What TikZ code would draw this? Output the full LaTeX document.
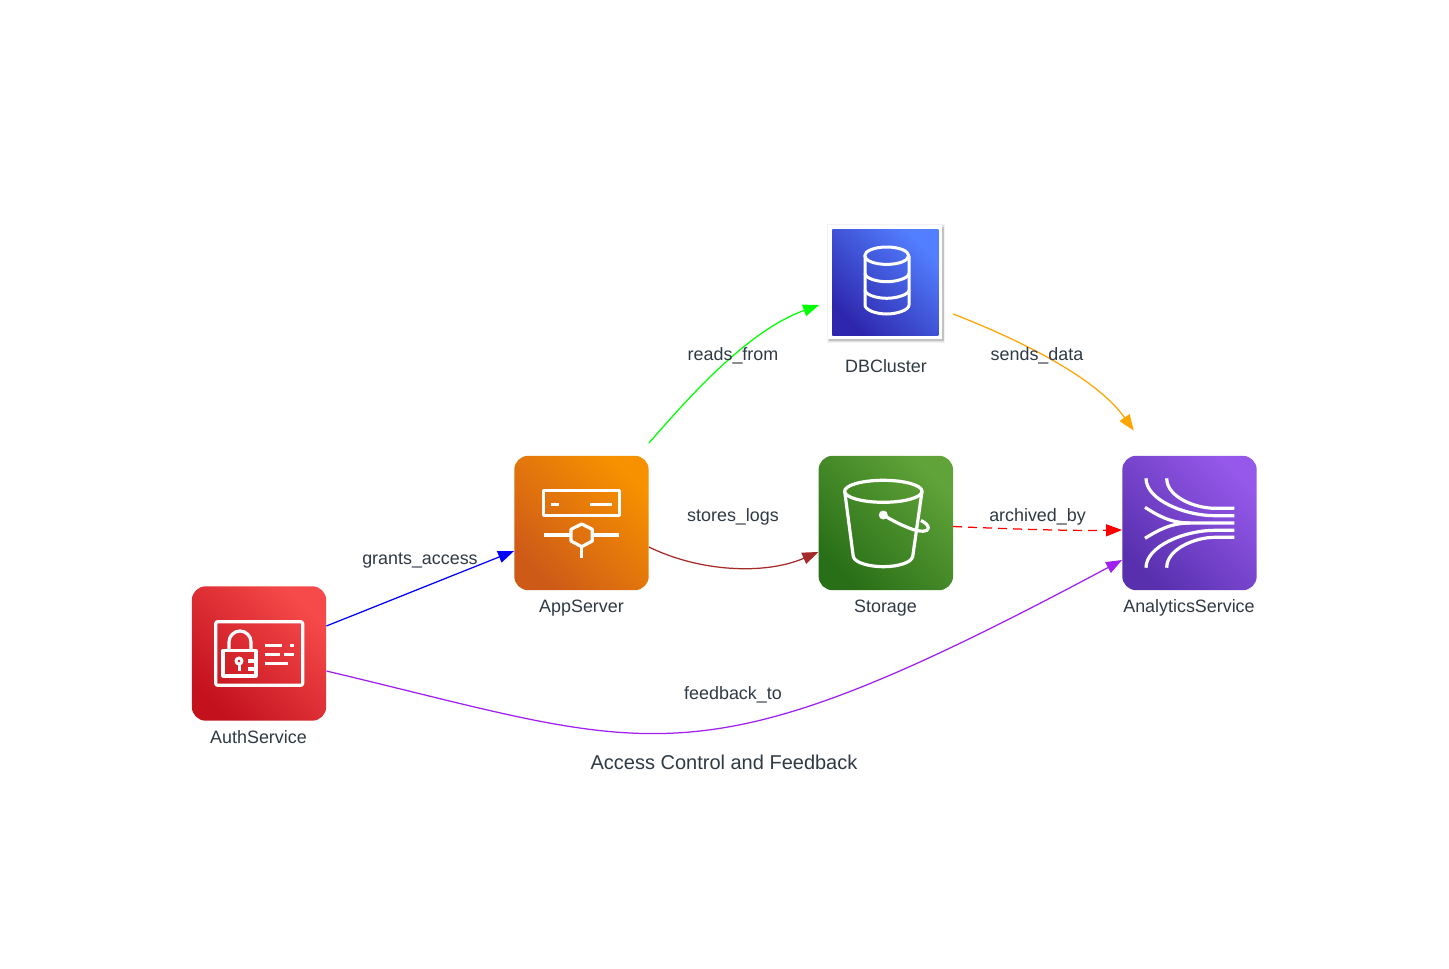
\documentclass[tikz,border=0pt]{standalone}
\usepackage{fontspec}
\setmainfont{Liberation Sans}
\usetikzlibrary{arrows.meta}
\definecolor{inkc}{HTML}{2F3A44}
\definecolor{redA}{HTML}{C3121E}\definecolor{redB}{HTML}{F64A4A}
\definecolor{orgA}{HTML}{CE5A18}\definecolor{orgB}{HTML}{F79100}
\definecolor{grnA}{HTML}{296F17}\definecolor{grnB}{HTML}{60A339}
\definecolor{bluA}{HTML}{2E27AD}\definecolor{bluB}{HTML}{527FFF}
\definecolor{purA}{HTML}{5830AE}\definecolor{purB}{HTML}{9558EA}
\definecolor{edgeorange}{HTML}{FFA500}
\definecolor{edgebrown}{HTML}{A52A2A}
\definecolor{edgepurple}{HTML}{A020F0}
\tikzset{
  x=1pt,y=-1pt,
  iconbox/.style={minimum size=134.4pt,inner sep=0pt,rounded corners=14pt},
  lbl/.style={anchor=base,font=\fontsize{17.9}{20}\selectfont,text=inkc,inner sep=0pt},
  titlelbl/.style={anchor=base,font=\fontsize{20}{22}\selectfont,text=inkc,inner sep=0pt},
  conn/.style={line width=1.25pt,-{Triangle[length=16pt,width=12pt]}},
  glyph/.style={draw=white,line width=3.2pt,line join=round},
  glyphthin/.style={draw=white,line width=3pt,line join=round},
}
\begin{document}
\begin{tikzpicture}
\useasboundingbox (0,0) rectangle (1449,969);
\fill[white] (0,0) rectangle (1449,969);
% DB shadow
\fill[black!5] (826.5,223.5) rectangle (945,343);
\fill[black!11] (827.5,224.5) rectangle (944,342);
\fill[black!24] (829,227) rectangle (943.7,341);
% nodes
\node[iconbox,bottom color=redA,top color=redB,shading angle=-45] (auth) at (259,653.5) {};
\node[iconbox,bottom color=orgA,top color=orgB,shading angle=-45] (app) at (581.5,523) {};
\node[iconbox,bottom color=grnA,top color=grnB,shading angle=-45] (store) at (885.8,523) {};
\node[iconbox,bottom color=purA,top color=purB,shading angle=-45] (ana) at (1189.5,523) {};
\node[fill=white,minimum size=114pt,inner sep=0pt] (db) at (885.3,282) {};
\node[minimum size=106pt,inner sep=0pt,bottom color=bluA,top color=bluB,shading angle=-45] (dbinner) at (885.3,282.3) {};
% auth glyph
\draw[glyph,rounded corners=2pt] (215.7,621.7) rectangle (302.7,685.3);
\draw[glyph] (223,650.7) rectangle (256,676);
\draw[glyph] (229,650) -- (229,642) .. controls (229,636) and (234,631) .. (240,631) .. controls (246,631) and (251,636) .. (251,642) -- (251,650);
\draw[glyph] (248.3,661) -- (256,661) (248.3,669) -- (256,669);
\draw[glyphthin] (239,661) circle[radius=3];
\draw[glyphthin] (239,664) -- (239,670.7);
\draw[glyph] (264.7,645.7) -- (282.3,645.7) (289.7,645.7) -- (293.7,645.7)
  (264.7,654.3) -- (280,654.3) (284.3,654.3) -- (293.7,654.3)
  (264.7,663.3) -- (288,663.3);
% app glyph
\draw[glyph] (543.7,490.3) rectangle (619.7,515.7);
\draw[glyph] (551,504.3) -- (559.3,504.3) (590.3,504.3) -- (612.3,504.3);
\draw[glyph] (544,535) -- (571,535) (592.3,535) -- (619.3,535);
\draw[glyph] (581.7,524) -- (592.3,529.3) -- (592.3,541) -- (581.7,546.7) -- (571,541) -- (571,529.3) -- cycle;
\draw[glyph] (581.7,546.7) -- (581.7,557.7);
% db glyph
\draw[glyphthin] (886.7,255.7) ellipse[x radius=22,y radius=8.7];
\draw[glyphthin] (865,256) -- (865,305) .. controls (865,310) and (876,314) .. (886.7,314) .. controls (897,314) and (909,310) .. (909,305) -- (909,256);
\draw[glyphthin] (865,273.3) .. controls (865,278) and (876,281.7) .. (886.7,281.7) .. controls (897,281.7) and (909,278) .. (909,273.3);
\draw[glyphthin] (865,290) .. controls (865,294.5) and (876,298.3) .. (886.7,298.3) .. controls (897,298.3) and (909,294.5) .. (909,290);
% storage glyph
\draw[glyph] (883.3,491.3) ellipse[x radius=38.7,y radius=11];
\draw[glyph] (844.7,491.3) -- (853.3,556.7) .. controls (855,563) and (870,566.7) .. (883.3,566.7) .. controls (897,566.7) and (911,563) .. (912.7,556.7) -- (922,491.3);
\fill[white] (883.3,515) circle[radius=4.5];
\draw[glyph] (883.3,515) .. controls (893,521) and (903,526) .. (913,529.5) .. controls (920,531.5) and (928,532.5) .. (928.3,528) .. controls (928.5,525) and (924,522) .. (921,520.5);
% analytics glyph
\draw[glyph] (1146,478.3) .. controls (1146,500) and (1185,515.7) .. (1215,515.7) -- (1234.3,515.7);
\draw[glyph] (1166.7,478.3) .. controls (1166.7,497) and (1195,508.3) .. (1215,508.3) -- (1234.3,508.3);
\draw[glyph] (1145,507.3) .. controls (1157,515) and (1170,523) .. (1190,523) -- (1234.3,523);
\draw[glyph] (1145,538.3) .. controls (1157,531) and (1170,523) .. (1190,523);
\draw[glyph] (1146,567.7) .. controls (1146,546) and (1185,530.3) .. (1215,530.3) -- (1234.3,530.3);
\draw[glyph] (1166.7,567.7) .. controls (1166.7,549) and (1195,537.3) .. (1215,537.3) -- (1234.3,537.3);
% connectors
\draw[conn,draw=blue] ([yshift=27.5pt]auth.east) -- ([yshift=-28pt]app.west);
\draw[conn,draw=green] ([yshift=12.5pt]app.north east) .. controls (695,390) and (750,330) .. ([shift={(-9pt,-23pt)}]db.west);
\draw[conn,draw=edgeorange] ([shift={(10.7pt,-32pt)}]db.east) .. controls (1015,338) and (1095,376) .. ([shift={(11.7pt,25pt)}]ana.north west);
\draw[conn,draw=edgebrown] ([yshift=-24pt]app.east) .. controls (700,572) and (765,575) .. ([yshift=-29pt]store.west);
\draw[line width=1.25pt,draw=red,dash pattern=on 9pt off 6pt,-{Triangle[length=16pt,width=12pt]}] ([yshift=-3.5pt]store.east) .. controls (1010,529) and (1070,531) .. ([yshift=-7pt]ana.west);
\draw[conn,draw=edgepurple] ([yshift=-17.5pt]auth.east) .. controls (660,750) and (692,790) .. ([yshift=-37pt]ana.west);
% labels
\node[lbl] (lauth) at (258.5,743) {AuthService};
\node[lbl] (lapp) at (581.5,612) {AppServer};
\node[lbl] (ldb) at (886,372) {DBCluster};
\node[lbl] (lstore) at (885.5,612) {Storage};
\node[lbl] (lana) at (1189,612) {AnalyticsService};
\node[lbl] (e1) at (420,564) {grants\_access};
\node[lbl] (e2) at (733,360) {reads\_from};
\node[lbl] (e3) at (1037,360) {sends\_data};
\node[lbl] (e4) at (733,521) {stores\_logs};
\node[lbl] (e5) at (1037.5,521) {archived\_by};
\node[lbl] (e6) at (733,699) {feedback\_to};
\node[titlelbl] (title) at (724,769) {Access Control and Feedback};
\end{tikzpicture}
\end{document}
